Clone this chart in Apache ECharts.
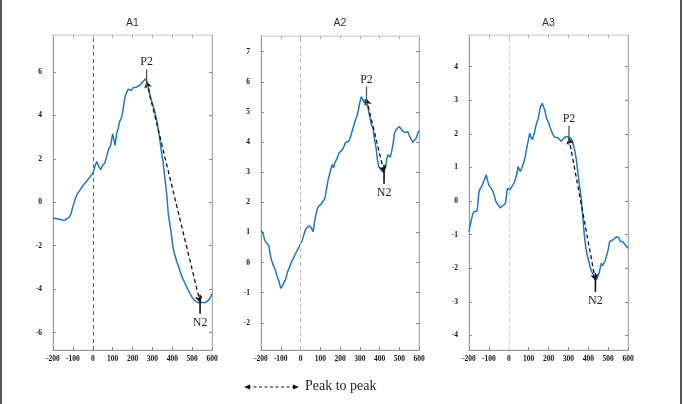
<!DOCTYPE html>
<html>
<head>
<meta charset="utf-8">
<title>ERP A1 A2 A3</title>
<script src="https://cdn.jsdelivr.net/npm/echarts@6/dist/echarts.min.js"></script>
<style>
    html, body { margin: 0; padding: 0; background: #fff; }
    #chart { width: 684px; height: 404px; }
</style>
</head>
<body>
<div id="chart"></div>
<script>
// x axis ticks (ms)
var xTicks = [-200, -100, 0, 100, 200, 300, 400, 500, 600];

// A1 waveform
var a1Time = [-200, -190, -180, -170, -160, -150, -140, -130, -120, -110, -100, -90, -80, -70, -60, -50, -40, -30, -20, -10,
    0, 10, 20, 30, 40, 50, 60, 70, 80, 90, 100, 106, 112, 120, 128, 134, 145, 155, 162, 170, 178, 186, 194, 204, 212, 220,
    230, 240, 250, 258, 265, 272, 280, 290, 300, 310, 322, 330, 338, 346, 355, 363, 372, 380, 387, 393, 400, 406, 414, 423,
    432, 440, 452, 465, 480, 490, 500, 510, 520, 532, 545, 555, 566, 575, 583, 592, 600];
var a1Value = [-0.72, -0.78, -0.76, -0.82, -0.80, -0.88, -0.82, -0.78, -0.70, -0.55, -0.2, 0.1, 0.35, 0.48, 0.62, 0.76, 0.85, 0.98, 1.1, 1.18,
    1.32, 1.62, 1.88, 1.65, 1.5, 1.7, 1.8, 2.1, 2.45, 2.62, 3.15, 2.9, 2.62, 3.16, 3.4, 3.69, 3.9, 4.4, 4.84, 5.05, 5.2, 5.27, 5.15, 5.28, 5.22, 5.3,
    5.38, 5.42, 5.52, 5.6, 5.68, 5.55, 5.3, 4.82, 4.55, 4.25, 3.77, 3.35, 2.85, 2.3, 1.78, 1.1, 0.4, -0.52, -0.95, -1.29, -1.8, -2.2, -2.45, -2.74,
    -2.95, -3.2, -3.5, -3.74, -4.05, -4.22, -4.38, -4.5, -4.55, -4.63, -4.6, -4.65, -4.62, -4.58, -4.5, -4.38, -4.2];
var a1Ticks = [-6, -4, -2, 0, 2, 4, 6];
var a1P2 = [271, 5.55];
var a1N2 = [540, -4.6];

// A2 waveform
var a2Time = [-200, -195, -190, -180, -170, -160, -150, -140, -130, -120, -110, -100, -92, -85, -75, -65, -55, -45, -35, -25, -15, -5,
    0, 8, 15, 25, 35, 47, 55, 64, 70, 76, 84, 90, 98, 106, 115, 123, 132, 140, 150, 160, 167, 174, 185, 194, 202, 211, 220, 228, 236,
    244, 252, 261, 270, 278, 285, 292, 300, 308, 315, 322, 328, 333, 340, 350, 358, 367, 375, 384, 390, 396, 405, 413, 418, 423, 430,
    437, 443, 450, 455, 460, 468, 476, 485, 493, 500, 507, 515, 522, 527, 535, 544, 552, 560, 569, 577, 586, 593, 600];
var a2Value = [1.06, 1.1, 0.98, 0.72, 0.66, 0.55, 0.15, -0.05, -0.2, -0.42, -0.6, -0.85, -0.78, -0.72, -0.55, -0.3, -0.15, 0.03, 0.15, 0.31, 0.42, 0.55,
    0.64, 0.72, 0.88, 1.09, 1.18, 1.22, 1.15, 1.03, 1.3, 1.53, 1.75, 1.86, 1.9, 1.95, 2.05, 2.12, 2.45, 2.75, 3.0, 3.25, 3.15, 3.32, 3.45, 3.63, 3.58, 3.74, 3.85, 3.99, 3.95,
    4.02, 4.15, 4.35, 4.55, 4.74, 4.85, 5.02, 5.3, 5.51, 5.42, 5.3, 5.42, 5.46, 5.2, 4.85, 4.6, 4.47, 4.1, 3.74, 3.4, 3.19, 3.1, 3.06, 3.0, 2.99, 3.15,
    3.45, 3.58, 3.62, 3.5, 3.52, 3.9, 4.3, 4.42, 4.47, 4.52, 4.54, 4.38, 4.42, 4.32, 4.38, 4.34, 4.2, 4.1, 3.99, 4.05, 4.13, 4.28, 4.38];
var a2Ticks = [-2, -1, 0, 1, 2, 3, 4, 5, 6, 7];
var a2P2 = [334, 5.43];
var a2N2 = [423, 3.0];

// A3 waveform
var a3Time = [-200, -190, -182, -175, -168, -160, -155, -150, -143, -135, -125, -113, -107, -100, -90, -79, -72, -66, -54, -42, -35, -29, -20, -15, -7,
    0, 5, 12, 21, 28, 35, 42, 47, 52, 58, 65, 75, 82, 89, 98, 106, 112, 119, 128, 136, 142, 147, 153, 159, 164, 169, 175, 181, 187, 193,
    200, 206, 214, 223, 232, 240, 248, 256, 264, 273, 281, 290, 298, 307, 315, 323, 332, 340, 347, 354, 360, 365, 370, 374, 380, 387, 393,
    399, 405, 411, 418, 425, 433, 441, 448, 454, 460, 466, 472, 478, 485, 491, 500, 508, 516, 525, 533, 542, 548, 555, 561, 567, 573, 579, 585, 592, 600];
var a3Value = [-0.91, -0.61, -0.4, -0.31, -0.35, -0.3, -0.06, 0.28, 0.38, 0.45, 0.6, 0.78, 0.62, 0.48, 0.4, 0.28, 0.15, 0.0, -0.11, -0.21, -0.15, -0.18, -0.1, -0.01, 0.38,
    0.35, 0.33, 0.4, 0.48, 0.55, 0.68, 0.85, 1.03, 0.95, 0.88, 0.98, 1.13, 1.3, 1.52, 1.8, 2.02, 1.9, 1.82, 2.0, 2.22, 2.35, 2.42, 2.6, 2.81, 2.85, 2.91, 2.8, 2.71, 2.55, 2.42,
    2.35, 2.22, 2.1, 1.97, 1.9, 1.94, 1.88, 1.87, 1.78, 1.82, 1.9, 1.94, 1.92, 1.97, 1.85, 1.72, 1.5, 1.23, 0.9, 0.53, 0.3, 0.04, -0.3, -0.56, -1.0, -1.35, -1.55,
    -1.7, -1.85, -2.0, -2.1, -2.15, -2.28, -2.35, -2.3, -2.15, -2.0, -1.85, -1.92, -1.9, -1.78, -1.65, -1.45, -1.2, -1.18, -1.15, -1.12, -1.06, -1.08, -1.1, -1.2, -1.15, -1.2, -1.25, -1.3, -1.35, -1.4];
var a3Ticks = [-4, -3, -2, -1, 0, 1, 2, 3, 4];
var a3P2 = [303, 1.87];
var a3N2 = [436, -2.36];

var panels = [
    {name: 'A1', time: a1Time, value: a1Value, ticks: a1Ticks, p2: a1P2, n2: a1N2, min: -6.8, max: 7.7,
        left: 53, top: 35, width: 159, height: 315, zeroColor: '#666'},
    {name: 'A2', time: a2Time, value: a2Value, ticks: a2Ticks, p2: a2P2, n2: a2N2, min: -2.9, max: 7.52,
        left: 261, top: 36, width: 158, height: 314, zeroColor: '#bbb'},
    {name: 'A3', time: a3Time, value: a3Value, ticks: a3Ticks, p2: a3P2, n2: a3N2, min: -4.43, max: 4.94,
        left: 469, top: 35, width: 159, height: 315, zeroColor: '#ccc'}
];

function zip(t, v) {
    var out = [];
    for (var i = 0; i < t.length; i++) {
        out.push([t[i], v[i]]);
    }
    return out;
}

var tickFont = {fontFamily: 'Liberation Serif', fontWeight: 'bold', fontSize: 7.5, color: '#111'};
var grids = [], xAxes = [], yAxes = [], series = [], graphics = [];

for (var i = 0; i < panels.length; i++) {
    var p = panels[i];
    grids.push({left: p.left, top: p.top, width: p.width, height: p.height,
        show: true, borderColor: '#d0d0d0', borderWidth: 1, containLabel: false});

    // bottom / top x axis
    xAxes.push({gridIndex: i, type: 'value', min: -200, max: 600, interval: 100, position: 'bottom',
        axisLine: {show: true, onZero: false, lineStyle: {color: '#999'}},
        axisTick: {show: true, inside: true, length: 3, lineStyle: {color: '#888'}},
        axisLabel: Object.assign({margin: 5}, tickFont),
        splitLine: {show: false}});
    xAxes.push({gridIndex: i, type: 'value', min: -200, max: 600, interval: 100, position: 'top',
        axisLine: {show: true, onZero: false, lineStyle: {color: '#ddd'}},
        axisTick: {show: true, inside: true, length: 3, lineStyle: {color: '#aaa'}},
        axisLabel: {show: false}, splitLine: {show: false}});

    // left / right y axis
    yAxes.push({gridIndex: i, type: 'value', min: p.min, max: p.max, position: 'left',
        axisLine: {show: true, onZero: false, lineStyle: {color: '#999'}},
        axisTick: {show: true, inside: true, length: 3, customValues: p.ticks, lineStyle: {color: '#888'}},
        axisLabel: Object.assign({margin: 11, customValues: p.ticks}, tickFont),
        splitLine: {show: false}});
    yAxes.push({gridIndex: i, type: 'value', min: p.min, max: p.max, position: 'right',
        axisLine: {show: true, onZero: false, lineStyle: {color: '#aaa'}},
        axisTick: {show: true, inside: true, length: 3, customValues: p.ticks, lineStyle: {color: '#888'}},
        axisLabel: {show: false}, splitLine: {show: false}});

    // waveform + zero line
    series.push({type: 'line', xAxisIndex: 2 * i, yAxisIndex: 2 * i, data: zip(p.time, p.value),
        showSymbol: false, silent: true, z: 3,
        lineStyle: {color: '#2277bb', width: 1.5},
        markLine: {silent: true, symbol: 'none', label: {show: false},
            lineStyle: {color: p.zeroColor, type: [4, 3], width: 1},
            data: [{xAxis: 0}]}});

    // peak to peak dashed line + markers
    series.push({type: 'line', xAxisIndex: 2 * i, yAxisIndex: 2 * i, data: [], z: 5,
        markLine: {silent: true, symbol: ['arrow', 'arrow'], symbolSize: 6, label: {show: false},
            lineStyle: {color: '#111', type: [4, 3], width: 1.3},
            data: [[{coord: p.p2}, {coord: p.n2}]]},
        markPoint: {silent: true,
            label: {show: true, fontFamily: 'Liberation Serif', fontSize: 12, color: '#222'},
            data: [
                {coord: p.p2, symbol: 'rect', symbolSize: [1.3, 19], symbolOffset: [0, -3],
                    itemStyle: {color: '#555'}, label: {formatter: 'P2', position: 'top', distance: 1}},
                {coord: p.n2, symbol: 'rect', symbolSize: [1.6, 19], symbolOffset: [0, 2],
                    itemStyle: {color: '#111'}, label: {formatter: 'N2', position: 'bottom', distance: 3}}
            ]}});

    graphics.push({type: 'text', x: p.left + p.width / 2, y: 23,
        style: {text: p.name, fontFamily: 'Liberation Sans', fontSize: 10.5, fill: '#333',
            textAlign: 'center', textVerticalAlign: 'middle'}});
}

// frame and legend
graphics.push({type: 'line', shape: {x1: 1, y1: 0, x2: 1, y2: 404}, style: {stroke: '#555', lineWidth: 2}});
graphics.push({type: 'line', shape: {x1: 681, y1: 0, x2: 681, y2: 404}, style: {stroke: '#555', lineWidth: 2}});
graphics.push({type: 'line', shape: {x1: 248, y1: 387, x2: 294, y2: 387},
    style: {stroke: '#111', lineWidth: 1.2, lineDash: [3, 2.5]}});
graphics.push({type: 'polygon', shape: {points: [[244, 387], [250, 384.5], [250, 389.5]]}, style: {fill: '#111'}});
graphics.push({type: 'polygon', shape: {points: [[299, 387], [293, 384.5], [293, 389.5]]}, style: {fill: '#111'}});
graphics.push({type: 'text', x: 305, y: 386,
    style: {text: 'Peak to peak', fontFamily: 'Liberation Serif', fontSize: 14, fill: '#222', textVerticalAlign: 'middle'}});

var myChart = echarts.init(document.getElementById('chart'));
myChart.setOption({
    animation: false,
    backgroundColor: '#fff',
    grid: grids,
    xAxis: xAxes,
    yAxis: yAxes,
    series: series,
    graphic: graphics
});
</script>
</body>
</html>
